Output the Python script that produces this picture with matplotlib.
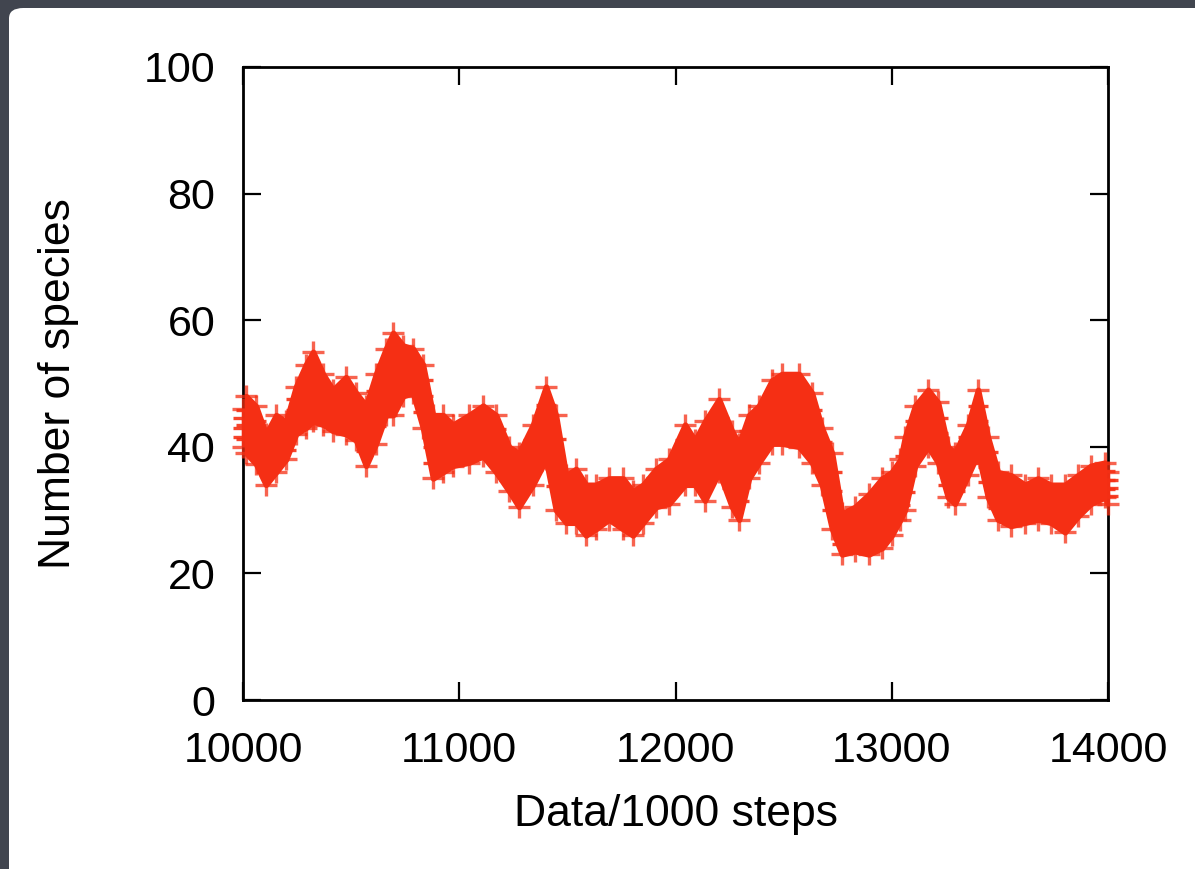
import matplotlib
matplotlib.use('Agg')
import matplotlib.pyplot as plt
from matplotlib.patches import FancyBboxPatch

plt.rcParams['font.family'] = ['Liberation Sans', 'DejaVu Sans']

# Envelope of the species count: step, upper, lower
steps = [10000, 10014, 10060, 10106, 10153, 10199, 10245, 10291, 10324, 10370,
         10416, 10476, 10523, 10569, 10615, 10661, 10694, 10740, 10786, 10832,
         10879, 10925, 10971, 11045, 11110, 11170, 11230, 11276, 11341, 11401,
         11447, 11494, 11540, 11586, 11632, 11692, 11757, 11803, 11850, 11910,
         11970, 12044, 12090, 12136, 12201, 12261, 12294, 12340, 12386, 12446,
         12492, 12571, 12631, 12677, 12724, 12770, 12830, 12894, 12955, 13000,
         13040, 13061, 13108, 13168, 13214, 13260, 13292, 13353, 13399, 13445,
         13491, 13551, 13616, 13676, 13736, 13801, 13861, 13921, 13986, 14000]
upper = [46, 48, 46.4, 42, 45, 44, 49.5, 53, 55, 51.5,
         49, 51, 48.5, 46.5, 51.5, 55.5, 58, 56, 55.5, 53,
         45, 45, 43.5, 45, 46.5, 45, 40, 39, 43.5, 49.5,
         45, 35.5, 36.5, 34, 34, 35, 35, 33, 34, 36.5,
         38, 43.5, 41, 44, 47.5, 42.5, 40.5, 45, 46.5, 50.5,
         51.5, 51.5, 48.5, 43, 39, 29.5, 30.5, 32.5, 35, 36,
         38, 41.5, 46.5, 49, 47, 40, 39, 43.5, 49, 41.5,
         36, 35.5, 34, 35, 34, 34, 35.5, 37, 37.5, 36]
lower = [40, 39, 37.3, 34, 36, 38, 42, 43, 44, 43.5,
         42.5, 42, 41, 37, 40.5, 45, 45, 48, 48.5, 43,
         35, 36, 37, 37.5, 38.5, 36, 33, 30.5, 34, 38,
         30, 28, 28, 26, 27, 28.5, 27, 26, 28, 30.5,
         31, 34, 34, 31.5, 36, 30.5, 28.5, 35, 37.5, 40.5,
         40.5, 40, 37.5, 34, 27, 23, 23.5, 23, 24, 26,
         28.5, 30, 37, 40, 37.5, 32, 31, 35.5, 39, 32,
         28.5, 27.5, 28, 28.5, 28, 26.5, 29, 31, 32, 31]

y_ticks = [0, 20, 40, 60, 80, 100]
x_ticks = [10000, 11000, 12000, 13000, 14000]

red = '#f52f14'

fig = plt.figure(figsize=(11.95, 8.69), dpi=100)
fig.patch.set_facecolor('#41454f')
panel = FancyBboxPatch((9 / 1195, -0.05), 1.1, 1.05 - 8 / 869,
                       boxstyle='round,pad=0,rounding_size=0.012',
                       transform=fig.transFigure, facecolor='white',
                       edgecolor='none', zorder=-5)
fig.patches.append(panel)

ax = fig.add_axes([243 / 1195, 1 - 700 / 869, 865 / 1195, 633 / 869])
ax.set_facecolor('white')

# solid core of the band
ax.fill_between(steps, lower, upper, facecolor=red, edgecolor=red,
                linewidth=4, joinstyle='round', zorder=2)

# "+" marks across the band, lighter on the fringe
levels = []
for frac in (0.0, 0.25, 0.5, 0.75, 1.0):
    levels.append([l + frac * (u - l) for u, l in zip(upper, lower)])
for i, series in enumerate(levels):
    fringe = i in (0, len(levels) - 1)
    ax.plot(steps, series, linestyle='none', marker='+',
            markersize=16 if fringe else 14, markeredgewidth=2.4,
            color=red, alpha=0.75 if fringe else 0.9,
            zorder=3, clip_on=False)

ax.set_xlim(10000, 14000)
ax.set_ylim(0, 100)
ax.set_xticks(x_ticks)
ax.set_yticks(y_ticks)
ax.tick_params(direction='in', length=13, width=1.6, top=True, right=True,
               labelsize=31, colors='black')
ax.tick_params(axis='x', pad=22)
ax.tick_params(axis='y', pad=20)
for spine in ax.spines.values():
    spine.set_linewidth(2)
    spine.set_color('black')

ax.set_xlabel('Data/1000 steps', fontsize=32)
ax.set_ylabel('Number of species', fontsize=32)
ax.xaxis.set_label_coords(0.5, -0.148)
ax.yaxis.set_label_coords(-0.19, 0.5)

fig.savefig('out.png', dpi=100)
